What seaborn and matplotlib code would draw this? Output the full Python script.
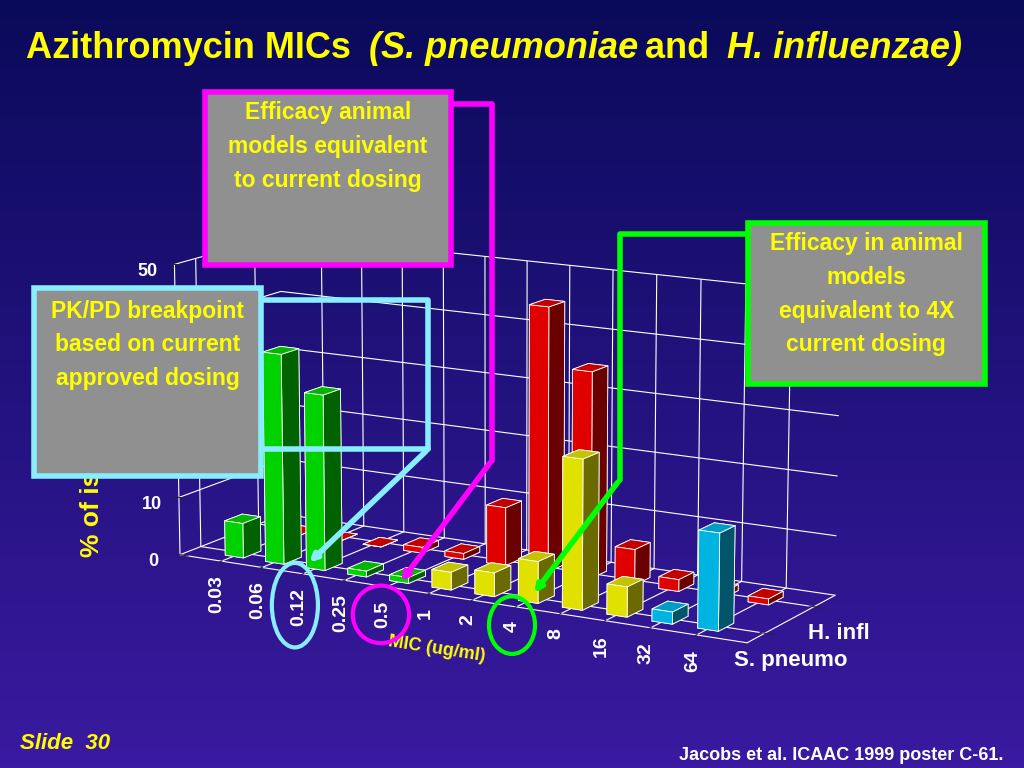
import numpy as np
import matplotlib
matplotlib.use("Agg")
import matplotlib.pyplot as plt
import seaborn as sns
from matplotlib.patches import Ellipse, FancyBboxPatch

sns.set_style("white")
plt.rcParams['font.family'] = ['Liberation Sans', 'DejaVu Sans']

mic = ["0.03", "0.06", "0.12", "0.25", "0.5", "1", "2", "4", "8", "16", "32", "64"]
s_pneumo = [6, 36, 30, 1, 1, 3, 4, 7, 25, 5, 2, 16]
h_infl = [0, 0, 0, 1, 1, 10, 45, 35, 6, 2, 1, 1]
s_colors = ["#00ee00"]*5 + ["#ffff00"]*5 + ["#00ccff"]*2
h_color = "#ff0000"
rows = ["S. pneumo", "H. infl"]

fig = plt.figure(figsize=(10.24, 7.68), dpi=100)
bg = fig.add_axes([0, 0, 1, 1]); bg.set_axis_off()
grad = np.linspace(0, 1, 256).reshape(-1, 1)
bg.imshow(grad, aspect='auto', cmap=matplotlib.colors.LinearSegmentedColormap.from_list('g', ['#0a0a5a', '#3a1aa0']), extent=[0, 1, 0, 1])
bg.set_xlim(0, 1); bg.set_ylim(0, 1)
bg.text(0.09, 0.275, "% of isolates", rotation=90, ha='center', va='bottom', color='#ffff00', fontsize=19, fontweight='bold')

ax = fig.add_axes([0.06, -0.04, 0.84, 0.94], projection='3d')
ax.set_facecolor((0, 0, 0, 0))
for a in (ax.xaxis, ax.yaxis, ax.zaxis):
    a.set_pane_color((0, 0, 0, 0))
    a._axinfo['grid']['color'] = 'white'
    a._axinfo['grid']['linewidth'] = 0.8
    a.line.set_color('white')
ax.zaxis._axinfo['juggled'] = (1, 2, 0)
n = len(mic)
xs = np.arange(n)
ax.bar3d(xs, np.full(n, 0.0), np.zeros(n), 0.45, 0.3, h_infl, color=h_color, shade=True, edgecolor='white', linewidth=0.6)
ax.bar3d(xs, np.full(n, -1.0), np.zeros(n), 0.45, 0.3, s_pneumo, color=s_colors, shade=True, edgecolor='white', linewidth=0.6)
ax.set_xticks(xs + 0.2)
ax.set_xticklabels(mic, rotation=90, color='white', fontsize=14, fontweight='bold')
ax.set_yticks([-0.85, 0.15])
ax.set_yticklabels(rows, color='white', fontsize=16, fontweight='bold')
ax.set_zticks([0, 10, 20, 30, 40, 50])
ax.set_zticklabels(["0", "10", "", "", "", "50"], color='white', fontsize=13, fontweight='bold')
ax.set_zlim(0, 50)
ax.set_ylim(-1.2, 0.6)
ax.set_xlabel("MIC (ug/ml)", color='#ffff00', fontsize=13, fontweight='bold', labelpad=20)
ax.view_init(elev=13, azim=-60)
ax.set_box_aspect((3, 0.9, 1.4))

ov = fig.add_axes([0, 0, 1, 1]); ov.set_axis_off()
ov.set_xlim(0, 1); ov.set_ylim(0, 1); ov.patch.set_alpha(0)

fig.text(0.025, 0.925, "Azithromycin MICs ", color='#ffff00', fontsize=26, fontweight='bold')
fig.text(0.36, 0.925, "(S. pneumoniae", color='#ffff00', fontsize=26, fontweight='bold', style='italic')
fig.text(0.63, 0.925, "and", color='#ffff00', fontsize=26, fontweight='bold')
fig.text(0.71, 0.925, "H. influenzae)", color='#ffff00', fontsize=26, fontweight='bold', style='italic')

def box(x, y, w, h, ec, txt, ty):
    ov.add_patch(FancyBboxPatch((x, y), w, h, boxstyle='square,pad=0', fc='#909090', ec=ec, lw=4, zorder=5))
    ov.text(x + w/2, ty, txt, ha='center', va='top', color='#ffff00', fontsize=16.5, fontweight='bold', linespacing=1.6, zorder=6)

box(0.2, 0.655, 0.24, 0.225, '#ff00ff', "Efficacy animal\nmodels equivalent\nto current dosing", 0.868)
box(0.033, 0.38, 0.222, 0.245, '#88eeff', "PK/PD breakpoint\nbased on current\napproved dosing", 0.61)
box(0.73, 0.5, 0.232, 0.21, '#00ff00', "Efficacy in animal\nmodels\nequivalent to 4X\ncurrent dosing", 0.698)

ov.add_patch(Ellipse((0.288, 0.212), 0.045, 0.11, fill=False, ec='#88eeff', lw=3))
ov.add_patch(Ellipse((0.372, 0.2), 0.055, 0.075, fill=False, ec='#ff00ff', lw=3))
ov.add_patch(Ellipse((0.5, 0.186), 0.045, 0.075, fill=False, ec='#00ff00', lw=3))
ov.plot([0.44, 0.48, 0.48], [0.865, 0.865, 0.4], color='#ff00ff', lw=4)
ov.annotate("", xy=(0.39, 0.24), xytext=(0.48, 0.4), arrowprops=dict(arrowstyle='-|>', color='#ff00ff', lw=4))
ov.plot([0.255, 0.418, 0.418], [0.61, 0.61, 0.415], color='#88eeff', lw=4)
ov.plot([0.255, 0.418], [0.415, 0.415], color='#88eeff', lw=4)
ov.annotate("", xy=(0.3, 0.265), xytext=(0.418, 0.415), arrowprops=dict(arrowstyle='-|>', color='#88eeff', lw=4))
ov.plot([0.73, 0.605, 0.605], [0.695, 0.695, 0.375], color='#00ff00', lw=4)
ov.annotate("", xy=(0.52, 0.225), xytext=(0.605, 0.375), arrowprops=dict(arrowstyle='-|>', color='#00ff00', lw=4))

fig.text(0.02, 0.025, "Slide  30", color='#ffff00', fontsize=16, fontweight='bold', style='italic')
fig.text(0.98, 0.01, "Jacobs et al. ICAAC 1999 poster C-61.", color='white', fontsize=13, fontweight='bold', ha='right')
fig.savefig("out.png", dpi=100)
